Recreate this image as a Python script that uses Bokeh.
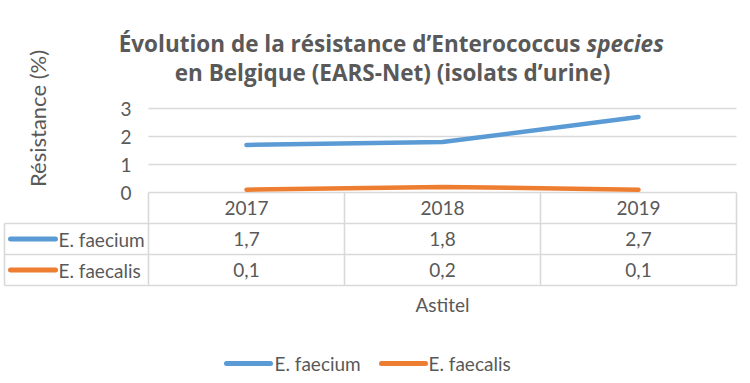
from math import pi
from bokeh.plotting import figure
from bokeh.models import Range1d
from bokeh.core.properties import value
from bokeh.embed import file_html
from bokeh.resources import INLINE

# ---- data ----
years = ["2017", "2018", "2019"]
faecium = [1.7, 1.8, 2.7]
faecalis = [0.1, 0.2, 0.1]
series_names = ["E. faecium", "E. faecalis"]
series_colors = ["#5B9BD5", "#ED7D31"]
y_ticks = [0, 1, 2, 3]
title_main = "Évolution de la résistance d’Enterococcus"
title_italic = "species"
title_line2 = "en Belgique (EARS-Net) (isolats d’urine)"
y_title = "Résistance (%)"
x_title = "Astitel"

# ---- layout helpers (reference pixel -> data coords) ----
W, H = 742, 375
OFF = 0
X0, DX = 246, 196   # centre of first column, column width (px)
Y0, DY = 192, 28    # pixel of value 0, px per unit


def X(px):
    return (px - X0) / DX


def Y(py):
    return (Y0 - py) / DY


TXT = "#595959"
GRID = "#D9D9D9"
FONT = value("Lato")
TFONT = value("Open Sans")

p = figure(width=W, height=H,
           x_range=Range1d(X(OFF), X(OFF + W)),
           y_range=Range1d(Y(OFF + H), Y(OFF)),
           x_axis_type=None, y_axis_type=None,
           toolbar_location=None, output_backend="svg", min_border=0)
p.outline_line_color = None
p.background_fill_color = "white"
p.border_fill_color = "white"

n = len(years)
idx = list(range(n))

# gridlines (0 doubles as table top)
p.segment(x0=[-0.5] * len(y_ticks), x1=[n - 0.5] * len(y_ticks), y0=y_ticks, y1=y_ticks,
          line_color=GRID, line_width=1.6)

# y tick labels
p.text(x=[X(131)] * len(y_ticks), y=y_ticks, text=[str(t) for t in y_ticks],
       text_align="right", text_baseline="middle", text_color=TXT,
       text_font=FONT, text_font_size=value("19px"))

# y title
p.text(x=[X(37)], y=[Y(118)], text=[y_title], angle=pi / 2,
       text_align="center", text_baseline="middle", text_color=TXT,
       text_font=FONT, text_font_size=value("22px"))

# series lines
for vals, col in zip([faecium, faecalis], series_colors):
    p.line(idx, vals, line_color=col, line_width=4.5, line_cap="round", line_join="round")

# ---- data table ----
rows_px = [192, 223, 254, 285]
left_px = 4
# horizontal lines
p.segment(x0=[X(left_px)] * 3, x1=[n - 0.5] * 3, y0=[Y(r) for r in rows_px[1:]],
          y1=[Y(r) for r in rows_px[1:]], line_color=GRID, line_width=1.6)
# vertical lines
vx = [i - 0.5 for i in range(n + 1)]
p.segment(x0=vx, x1=vx, y0=[Y(rows_px[0])] * len(vx), y1=[Y(rows_px[-1])] * len(vx),
          line_color=GRID, line_width=1.6)
p.segment(x0=[X(left_px)], x1=[X(left_px)], y0=[Y(rows_px[1])], y1=[Y(rows_px[-1])],
          line_color=GRID, line_width=1.6)

# header years
p.text(x=idx, y=[Y((rows_px[0] + rows_px[1]) / 2)] * n, text=years,
       text_align="center", text_baseline="middle", text_color=TXT,
       text_font=FONT, text_font_size=value("19px"))

for r, (name, vals, col) in enumerate(zip(series_names, [faecium, faecalis], series_colors)):
    yc = Y((rows_px[r + 1] + rows_px[r + 2]) / 2)
    p.text(x=idx, y=[yc] * n, text=[f"{v:.1f}".replace(".", ",") for v in vals],
           text_align="center", text_baseline="middle", text_color=TXT,
           text_font=FONT, text_font_size=value("19px"))
    p.segment(x0=[X(10)], x1=[X(55)], y0=[yc], y1=[yc], line_color=col,
              line_width=5, line_cap="round")
    p.text(x=[X(58)], y=[yc], text=[name], text_align="left", text_baseline="middle",
           text_color=TXT, text_font=FONT, text_font_size=value("19px"))

# x title
p.text(x=[X(442)], y=[Y(304)], text=[x_title], text_align="center", text_baseline="middle",
       text_color=TXT, text_font=FONT, text_font_size=value("19px"))

# bottom legend
leg_y = Y(363)
leg_x = [(226, 270, 274), (381, 425, 428)]
for (a, b, t), name, col in zip(leg_x, series_names, series_colors):
    p.segment(x0=[X(a)], x1=[X(b)], y0=[leg_y], y1=[leg_y], line_color=col,
              line_width=5, line_cap="round")
    p.text(x=[X(t)], y=[leg_y], text=[name], text_align="left", text_baseline="middle",
           text_color=TXT, text_font=FONT, text_font_size=value("19px"))

# title
p.text(x=[X(580)], y=[Y(43)], text=[title_main], text_align="right",
       text_baseline="alphabetic", text_color=TXT, text_font=TFONT,
       text_font_style="bold", text_font_size=value("22.5px"))
p.text(x=[X(586)], y=[Y(43)], text=[title_italic], text_align="left",
       text_baseline="alphabetic", text_color=TXT, text_font=TFONT,
       text_font_style="bold italic", text_font_size=value("22.5px"))
p.text(x=[X(392)], y=[Y(72)], text=[title_line2], text_align="center",
       text_baseline="alphabetic", text_color=TXT, text_font=TFONT,
       text_font_style="bold", text_font_size=value("22.5px"))

open("out.html", "w").write(file_html(p, INLINE))
